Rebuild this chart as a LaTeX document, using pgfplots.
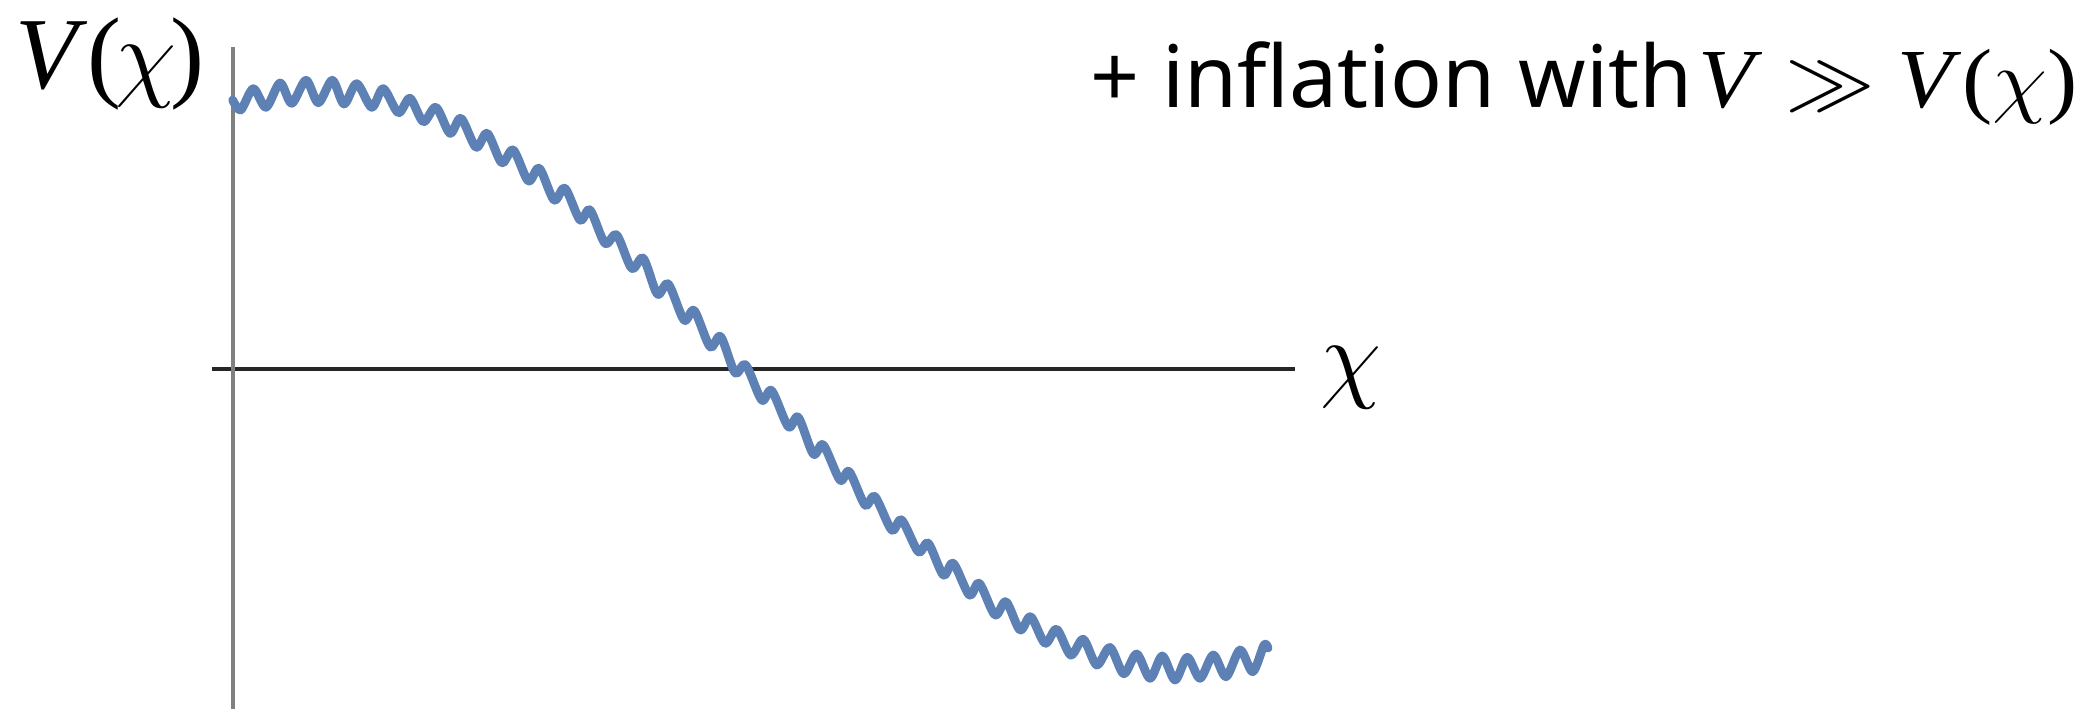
\documentclass[border=0pt]{standalone}
\usepackage{pgfplots}
\pgfplotsset{compat=1.18}
\usepackage{fontspec}
\setmainfont{Liberation Serif}
\newfontfamily\serifit{Liberation Serif}
\newfontfamily\labelsans{Noto Sans}
\definecolor{curveblue}{rgb}{0.368,0.507,0.710}

\begin{document}
\begin{tikzpicture}
\useasboundingbox (-58.25pt,-85pt) rectangle (466pt,92.25pt);
\begin{axis}[
  at={(0,0)}, anchor=origin,
  x=0.25pt, y=0.25pt,
  xmin=-21, xmax=1062, ymin=-340, ymax=322,
  axis lines=middle,
  axis line style={-},
  x axis line style={black!85, line width=0.8pt},
  y axis line style={black!50, line width=0.9pt},
  xtick=\empty, ytick=\empty,
  clip=false,
]
% rippled cosine-shaped potential: local extrema of the ripples
\addplot[curveblue, line width=2.2pt, smooth, line join=round, line cap=round] coordinates {
(-0.3,269) (7.7,259) (20.3,280.3) (33,261.7) (47,286) (58.7,265.7)
(73,288.7) (85.3,266.3) (99.3,288.7) (111,265) (123.7,285.3) (138.7,261.7)
(150.3,280.3) (165.3,256.3) (177,270.7) (190.3,247.3) (203,261.7) (217,235.7)
(228,250.7) (243,221.7) (254.3,235.7) (268.7,206.3) (280.3,219) (295.3,188)
(306.3,200.7) (321,169) (332,180.7) (347,149) (357,159) (372,125.7)
(383.7,134) (398.7,100.7) (410.3,110.7) (424.3,75) (435.3,85) (451,49)
(461.3,58.3) (477,22.3) (487.7,32.3) (502,-3.7) (512.7,4) (528.7,-31)
(538.7,-21.7) (555.3,-57.7) (565.3,-48.3) (580.3,-85) (590.3,-76) (607,-111)
(616.3,-102.7) (632,-136) (642,-127.7) (658.7,-161) (668.7,-151) (685.3,-182.7)
(695.3,-174.3) (710.3,-206) (720.3,-194.3) (736.3,-226) (746.3,-214.3) (762,-246)
(773,-232.7) (787,-261) (797.7,-247.7) (812,-274.3) (823.7,-260.3) (837.7,-286)
(850.3,-270.3) (863.7,-296) (877,-278.5) (890.7,-304.7) (903.7,-285) (917,-309.3)
(929.3,-287) (942,-311) (954.3,-288.3) (967,-309.3) (980.3,-286) (993,-307.7)
(1007,-281) (1019.7,-302.7) (1031,-276) (1035,-279)
};
\end{axis}
% axis labels
\node[anchor=base west, inner sep=0pt, font=\serifit\fontsize{25.5}{30}\selectfont]
  at (-54.5pt,70.25pt) {\itshape V\/\upshape(\kern-0.06em$\chi$\kern-0.06em)};
\node[anchor=center, inner sep=0pt, font=\fontsize{26}{30}\selectfont]
  at (279.5pt,-2.25pt) {$\chi$};
% annotation
\node[anchor=base west, inner sep=0pt, font=\labelsans\fontsize{21.5}{25}\selectfont]
  at (214.25pt,65.5pt) {+ inflation with};
\node[anchor=base east, inner sep=0pt, font=\serifit\fontsize{21}{25}\selectfont]
  at (461.3pt,65.5pt) {\scalebox{1.08}[1]{\itshape V\/ \upshape$\gg$ \itshape V\/\upshape($\chi$)}};
\end{tikzpicture}
\end{document}
